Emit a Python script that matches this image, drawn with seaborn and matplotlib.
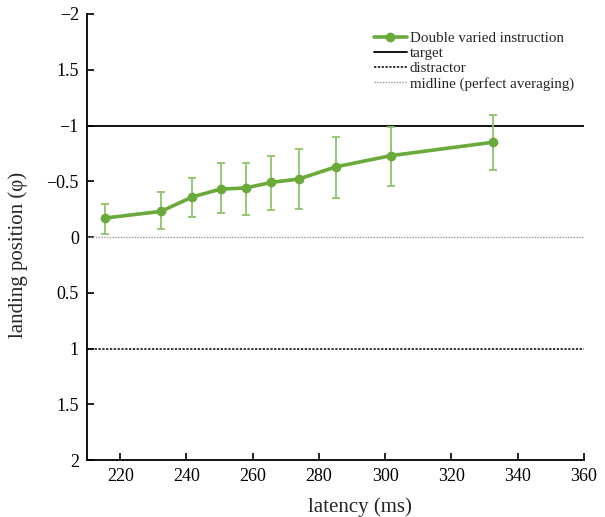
import numpy as np
import pandas as pd
import seaborn as sns
import matplotlib.pyplot as plt

# valores (latencia em ms, posicao de pouso em phi)
latency = [215.3, 232.3, 241.8, 250.3, 257.9, 265.6, 273.9, 285.2, 301.8, 332.6]
landing = [-0.17, -0.23, -0.36, -0.43, -0.44, -0.49, -0.52, -0.63, -0.73, -0.85]
bar_top = [-0.30, -0.40, -0.53, -0.66, -0.66, -0.73, -0.79, -0.90, -0.99, -1.09]
bar_bottom = [-0.03, -0.07, -0.18, -0.22, -0.20, -0.24, -0.25, -0.35, -0.46, -0.60]

ytick_vals = [-2, -1.5, -1, -0.5, 0, 0.5, 1, 1.5, 2]
ytick_labels = ["\u22122", "1.5", "\u22121", "\u22120.5", "0", "0.5", "1", "1.5", "2"]
xtick_vals = [220, 240, 260, 280, 300, 320, 340, 360]

df = pd.DataFrame({"latency": latency, "landing": landing})

sns.set_style("ticks")
plt.rcParams["font.family"] = ["Liberation Serif", "DejaVu Serif"]

green = "#6aaa3a"
green_err = "#8fc46a"

fig = plt.figure(figsize=(6.05, 5.17), dpi=100)
ax = fig.add_axes([0.144, 0.110, 0.821, 0.863])

# linhas de referencia
ax.axhline(-1, color="black", lw=1.3, label="target", zorder=1)
ax.axhline(1, color="black", lw=1.1, ls=(0, (1.5, 1)), label="distractor", zorder=1)
ax.axhline(0, color="#9a9a9a", lw=1.0, ls=(0, (1, 1)), label="midline (perfect averaging)", zorder=1)

# barras de erro
lat = np.array(latency)
mean = np.array(landing)
yerr = [mean - np.array(bar_top), np.array(bar_bottom) - mean]
ax.errorbar(lat, mean, yerr=yerr, fmt="none", ecolor=green_err, elinewidth=1.3,
            capsize=3, capthick=1.3, zorder=2)

sns.lineplot(data=df, x="latency", y="landing", ax=ax, color=green, lw=2.6,
             marker="o", markersize=7, markeredgewidth=0,
             label="Double varied instruction", zorder=3)

ax.set_xlim(210, 360)
ax.set_ylim(2, -2)
ax.set_xticks(xtick_vals)
ax.set_yticks(ytick_vals)
ax.set_yticklabels(ytick_labels)
ax.tick_params(direction="in", length=5, width=1.2, labelsize=13, pad=6, colors="black")
for s in ["left", "bottom"]:
    ax.spines[s].set_linewidth(1.3)
    ax.spines[s].set_color("black")
sns.despine(ax=ax)

ax.set_xlabel("latency (ms)", fontsize=15)
ax.xaxis.set_label_coords(0.549, -0.083)
ax.set_ylabel("landing position (\u03c6)", fontsize=15)
ax.yaxis.set_label_coords(-0.12, 0.46)

handles, labels = ax.get_legend_handles_labels()
order = [labels.index(l) for l in ["Double varied instruction", "target", "distractor",
                                   "midline (perfect averaging)"]]
ax.legend([handles[i] for i in order], [labels[i] for i in order],
          loc="upper left", bbox_to_anchor=(0.55, 0.99), frameon=False,
          fontsize=10.8, labelspacing=0.1, handlelength=2.2, handletextpad=0.2)

fig.savefig("out.png", dpi=100)
